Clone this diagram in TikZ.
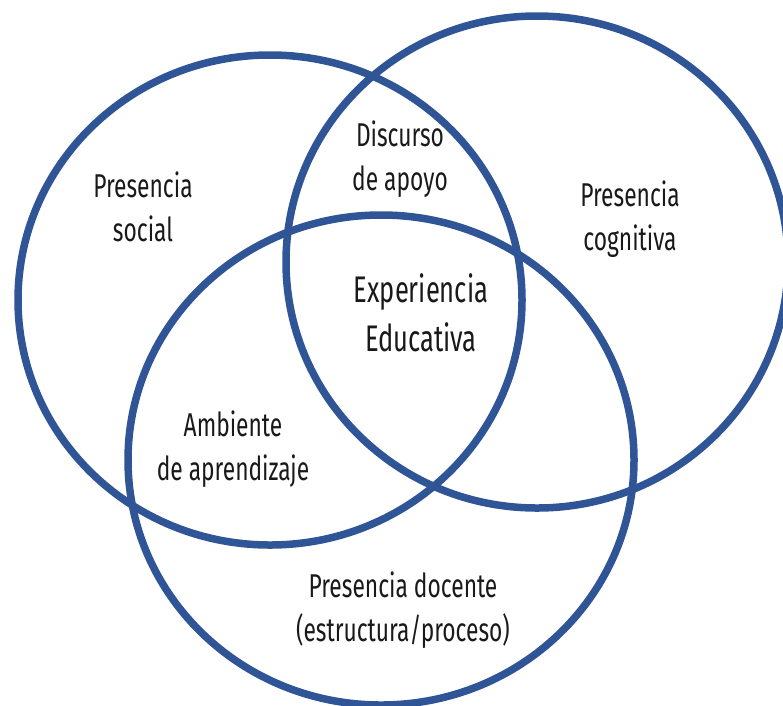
\documentclass[tikz,border=0pt]{standalone}
\usepackage{fontspec}
\setmainfont[FakeStretch=0.69]{Fira Sans}
\definecolor{ringblue}{HTML}{2F5597}
\tikzset{
  ring/.style={draw=ringblue, line width=7.5pt},
  lbl/.style={align=center, font=\fontsize{33}{44}\selectfont, text=black!90, inner sep=0pt},
  biglbl/.style={align=center, font=\fontsize{37}{49}\selectfont, text=black!90, inner sep=0pt}
}
\begin{document}
\begin{tikzpicture}[x=1pt,y=-1pt]
\useasboundingbox (0,0) rectangle (783,705);
\clip (0,0) rectangle (783,705);
\draw[ring] (270,300) ellipse [x radius=252, y radius=245];
\draw[ring] (537,262) ellipse [x radius=251, y radius=246];
\draw[ring] (381,460) ellipse [x radius=253, y radius=245];
\node[lbl] (social) at (143,207) {Presencia\\social};
\node[lbl] (apoyo) at (400,159) {Discurso\\de apoyo};
\node[lbl] (cognitiva) at (630,219) {Presencia\\cognitiva};
\node[biglbl] (exp) at (421,313) {Experiencia\\Educativa};
\node[lbl] (ambiente) at (233,449) {Ambiente\\de aprendizaje};
\node[lbl] (docente) at (403,610) {Presencia docente\\(estructura/proceso)};
\end{tikzpicture}
\end{document}
